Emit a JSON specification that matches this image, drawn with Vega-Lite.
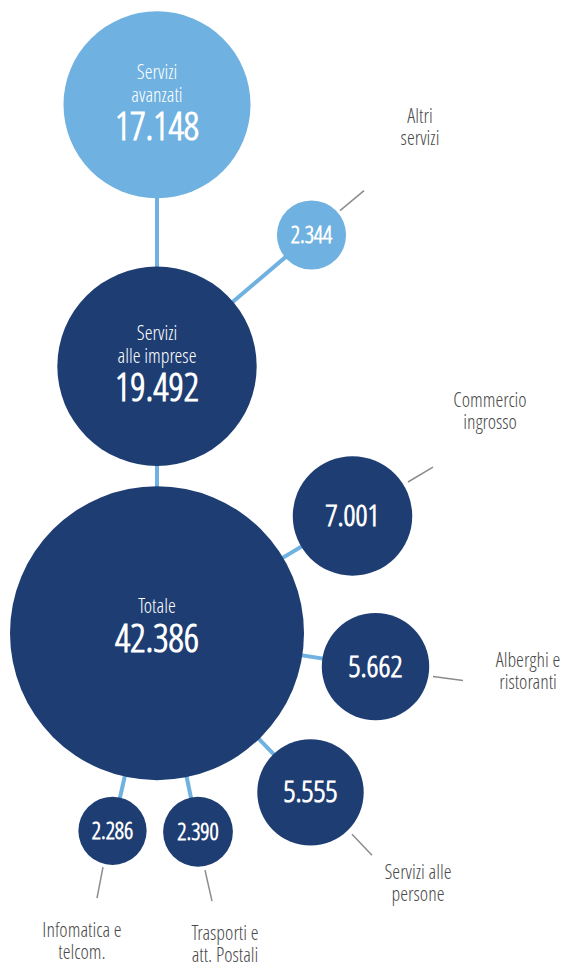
{
  "$schema": "https://vega.github.io/schema/vega-lite/v6.json",
  "width": 567,
  "height": 966,
  "autosize": {"type": "fit", "contains": "padding"},
  "padding": 0,
  "background": "white",
  "config": {
    "view": {"stroke": null},
    "text": {"font": "'Open Sans Condensed Light', 'Noto Sans Condensed Light', 'Roboto Condensed Light', 'Open Sans Condensed', 'Noto Sans Condensed', 'Roboto Condensed', sans-serif", "fontWeight": 300},
    "locale": {"number": {"decimal": ",", "thousands": ".", "grouping": [3], "currency": ["€", ""]}}
  },
  "datasets": {
    "nodes": [
      {"name": "Totale", "value": 42386, "x": 157, "y": 634.5, "group": "a", "inner": "Totale"},
      {"name": "Servizi alle imprese", "value": 19492, "x": 157, "y": 367, "group": "a", "inner": "Servizi\nalle imprese"},
      {"name": "Servizi avanzati", "value": 17148, "x": 157, "y": 105, "group": "b", "inner": "Servizi\navanzati"},
      {"name": "Altri servizi", "value": 2344, "x": 311.5, "y": 235.5, "group": "b", "outer": "Altri\nservizi", "lx": 420, "ly": 117},
      {"name": "Commercio ingrosso", "value": 7001, "x": 352.5, "y": 517, "group": "a", "outer": "Commercio\ningrosso", "lx": 490, "ly": 402},
      {"name": "Alberghi e ristoranti", "value": 5662, "x": 375.5, "y": 668, "group": "a", "outer": "Alberghi e\nristoranti", "lx": 528, "ly": 662},
      {"name": "Servizi alle persone", "value": 5555, "x": 310.5, "y": 794, "group": "a", "outer": "Servizi alle\npersone", "lx": 418, "ly": 875},
      {"name": "Infomatica e telcom.", "value": 2286, "x": 112.5, "y": 832.5, "group": "a", "outer": "Infomatica e\ntelcom.", "lx": 82, "ly": 933},
      {"name": "Trasporti e att. Postali", "value": 2390, "x": 198, "y": 833.5, "group": "a", "outer": "Trasporti e\natt. Postali", "lx": 225, "ly": 936}
    ],
    "links": [
      {"from": "Servizi alle imprese", "to": "Servizi avanzati"},
      {"from": "Servizi alle imprese", "to": "Altri servizi"},
      {"from": "Totale", "to": "Servizi alle imprese"},
      {"from": "Totale", "to": "Commercio ingrosso"},
      {"from": "Totale", "to": "Alberghi e ristoranti"},
      {"from": "Totale", "to": "Servizi alle persone"},
      {"from": "Totale", "to": "Infomatica e telcom."},
      {"from": "Totale", "to": "Trasporti e att. Postali"}
    ],
    "leaders": [
      {"name": "Altri servizi", "x1": 340, "y1": 211, "x2": 364, "y2": 191},
      {"name": "Commercio ingrosso", "x1": 408, "y1": 483, "x2": 433, "y2": 468},
      {"name": "Alberghi e ristoranti", "x1": 433, "y1": 678, "x2": 463, "y2": 682},
      {"name": "Servizi alle persone", "x1": 352, "y1": 836, "x2": 372, "y2": 857},
      {"name": "Infomatica e telcom.", "x1": 103, "y1": 869, "x2": 97, "y2": 900},
      {"name": "Trasporti e att. Postali", "x1": 205, "y1": 872, "x2": 212, "y2": 903}
    ]
  },
  "layer": [
    {
      "data": {"name": "links"},
      "transform": [
        {"lookup": "from", "from": {"data": {"name": "nodes"}, "key": "name", "fields": ["x", "y"]}, "as": ["fx", "fy"]},
        {"lookup": "to", "from": {"data": {"name": "nodes"}, "key": "name", "fields": ["x", "y"]}, "as": ["tx", "ty"]}
      ],
      "mark": {"type": "rule", "color": "#6FB1E0", "strokeWidth": 4},
      "encoding": {
        "x": {"field": "fx", "type": "quantitative", "scale": {"domain": [0, 567], "nice": false, "zero": false}, "axis": null},
        "y": {"field": "fy", "type": "quantitative", "scale": {"domain": [0, 966], "nice": false, "zero": false, "reverse": true}, "axis": null},
        "x2": {"field": "tx"},
        "y2": {"field": "ty"}
      }
    },
    {
      "data": {"name": "leaders"},
      "mark": {"type": "rule", "color": "#8C8C8C", "strokeWidth": 1.5},
      "encoding": {
        "x": {"field": "x1", "type": "quantitative", "scale": {"domain": [0, 567], "nice": false, "zero": false}, "axis": null},
        "y": {"field": "y1", "type": "quantitative", "scale": {"domain": [0, 966], "nice": false, "zero": false, "reverse": true}, "axis": null},
        "x2": {"field": "x2"},
        "y2": {"field": "y2"}
      }
    },
    {
      "data": {"name": "nodes"},
      "mark": {"type": "circle", "opacity": 1},
      "encoding": {
        "x": {"field": "x", "type": "quantitative", "scale": {"domain": [0, 567], "nice": false, "zero": false}, "axis": null},
        "y": {"field": "y", "type": "quantitative", "scale": {"domain": [0, 966], "nice": false, "zero": false, "reverse": true}, "axis": null},
        "size": {"field": "value", "type": "quantitative", "scale": {"type": "linear", "domain": [0, 42386], "range": [0, 86436]}, "legend": null},
        "color": {"field": "group", "type": "nominal", "scale": {"domain": ["a", "b"], "range": ["#1E3D72", "#6FB1E0"]}, "legend": null}
      }
    },
    {
      "data": {"name": "nodes"},
      "transform": [{"filter": "datum.inner && datum.name !== 'Totale'"}],
      "mark": {"type": "text", "color": "white", "fontSize": 20, "lineHeight": 23, "lineBreak": "\n", "align": "center", "baseline": "middle", "dy": -32},
      "encoding": {
        "x": {"field": "x", "type": "quantitative"},
        "y": {"field": "y", "type": "quantitative"},
        "text": {"field": "inner"}
      }
    },
    {
      "data": {"name": "nodes"},
      "transform": [{"filter": "datum.name === 'Totale'"}],
      "mark": {"type": "text", "color": "white", "fontSize": 20, "align": "center", "baseline": "middle", "dy": -26},
      "encoding": {
        "x": {"field": "x", "type": "quantitative"},
        "y": {"field": "y", "type": "quantitative"},
        "text": {"field": "inner"}
      }
    },
    {
      "data": {"name": "nodes"},
      "transform": [{"filter": "datum.inner && datum.name !== 'Totale'"}],
      "mark": {"type": "text", "color": "white", "fontSize": 38, "font": "'Open Sans Condensed Light', sans-serif", "fontWeight": 700, "align": "center", "baseline": "middle", "dy": 24},
      "encoding": {
        "x": {"field": "x", "type": "quantitative"},
        "y": {"field": "y", "type": "quantitative"},
        "text": {"field": "value", "type": "quantitative", "format": ",d"}
      }
    },
    {
      "data": {"name": "nodes"},
      "transform": [{"filter": "datum.name === 'Totale'"}],
      "mark": {"type": "text", "color": "white", "fontSize": 38, "font": "'Open Sans Condensed Light', sans-serif", "fontWeight": 700, "align": "center", "baseline": "middle", "dy": 8},
      "encoding": {
        "x": {"field": "x", "type": "quantitative"},
        "y": {"field": "y", "type": "quantitative"},
        "text": {"field": "value", "type": "quantitative", "format": ",d"}
      }
    },
    {
      "data": {"name": "nodes"},
      "transform": [{"filter": "!datum.inner"}],
      "mark": {"type": "text", "color": "white", "font": "'Open Sans Condensed Light', sans-serif", "fontWeight": 700, "align": "center", "baseline": "middle", "dy": 1},
      "encoding": {
        "x": {"field": "x", "type": "quantitative"},
        "y": {"field": "y", "type": "quantitative"},
        "size": {"field": "value", "type": "quantitative", "scale": {"type": "threshold", "domain": [3000], "range": [23, 30]}, "legend": null},
        "text": {"field": "value", "type": "quantitative", "format": ",d"}
      }
    },
    {
      "data": {"name": "nodes"},
      "transform": [{"filter": "datum.outer"}],
      "mark": {"type": "text", "color": "#4A4A4A", "fontSize": 20, "lineHeight": 22, "lineBreak": "\n", "align": "center", "baseline": "middle"},
      "encoding": {
        "x": {"field": "lx", "type": "quantitative"},
        "y": {"field": "ly", "type": "quantitative"},
        "text": {"field": "outer"}
      }
    }
  ]
}
